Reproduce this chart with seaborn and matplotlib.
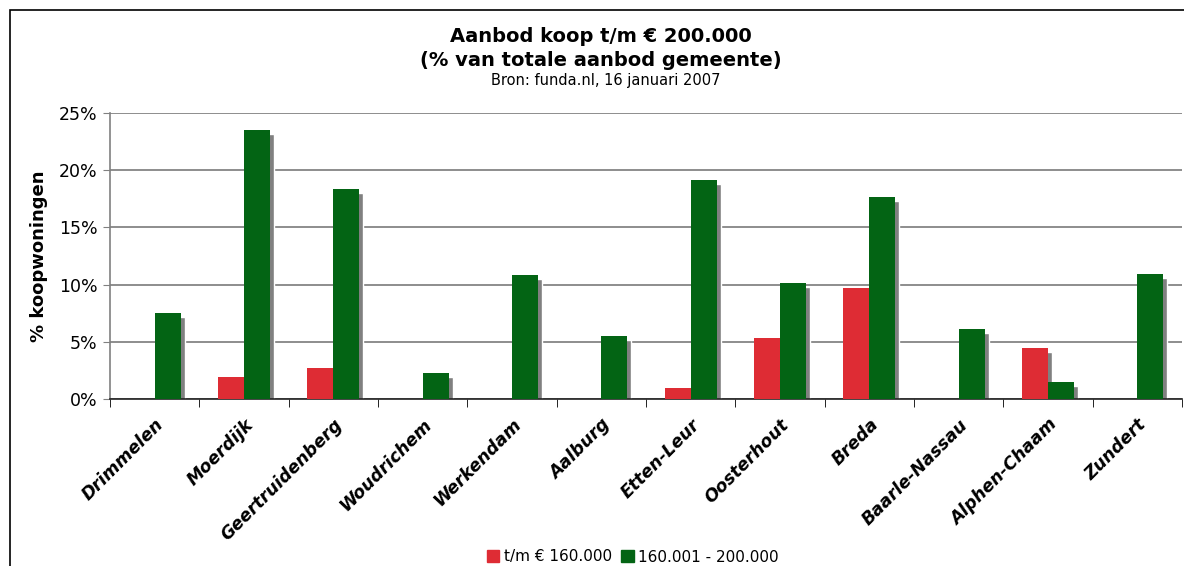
import matplotlib
matplotlib.use("Agg")
import matplotlib.pyplot as plt
import matplotlib.transforms as mtransforms
from matplotlib.patches import Rectangle, Patch
from matplotlib.ticker import FixedLocator, FuncFormatter
import seaborn as sns
import pandas as pd

# data
gemeenten = ["Drimmelen", "Moerdijk", "Geertruidenberg", "Woudrichem", "Werkendam",
             "Aalburg", "Etten-Leur", "Oosterhout", "Breda", "Baarle-Nassau",
             "Alphen-Chaam", "Zundert"]
tot_160 = [0, 1.9, 2.7, 0, 0, 0, 1.0, 5.3, 9.7, 0, 4.5, 0]
van_160_200 = [7.5, 23.5, 18.4, 2.3, 10.8, 5.5, 19.1, 10.1, 17.7, 6.1, 1.5, 10.9]
reeksen = ["t/m € 160.000", "160.001 - 200.000"]
kleuren = ["#DE2C34", "#036414"]

df = pd.DataFrame({
    "Gemeente": gemeenten * 2,
    "Reeks": [reeksen[0]] * len(gemeenten) + [reeksen[1]] * len(gemeenten),
    "Waarde": tot_160 + van_160_200,
})

sns.set_style("white")
plt.rcParams["font.family"] = ["DejaVu Sans"]
plt.rcParams["text.color"] = "black"
plt.rcParams["axes.labelcolor"] = "black"
plt.rcParams["xtick.color"] = "black"
plt.rcParams["ytick.color"] = "black"

fig = plt.figure(figsize=(11.84, 5.66), dpi=100)
ax = fig.add_axes([110 / 1184, 1 - 399 / 566, (1182 - 110) / 1184, (399 - 113) / 566])

# grijze schaduw eerst, een paar pixels verschoven
sns.barplot(data=df, x="Gemeente", y="Waarde", hue="Reeks", hue_order=reeksen,
            palette=["#808080", "#808080"], width=0.58, gap=0, ax=ax,
            legend=False, saturation=1, errorbar=None)
n_shadow = len(ax.patches)
shift = mtransforms.ScaledTranslation(4 / 100, -4 / 100, fig.dpi_scale_trans)
for p in ax.patches:
    p.set_transform(ax.transData + shift)
    p.set_zorder(2)

sns.barplot(data=df, x="Gemeente", y="Waarde", hue="Reeks", hue_order=reeksen,
            palette=kleuren, width=0.58, gap=0, ax=ax, legend=False,
            saturation=1, errorbar=None)
for p in ax.patches[n_shadow:]:
    p.set_zorder(3)
    p.set_linewidth(0)

ax.set_xlim(-0.5, len(gemeenten) - 0.5)
ax.set_ylim(0, 25)
ax.set_yticks([0, 5, 10, 15, 20, 25])
ax.yaxis.set_major_formatter(FuncFormatter(lambda v, pos: f"{v:.0f}%"))
ax.yaxis.grid(True, color="#7a7a7a", linewidth=1.2, zorder=1)
ax.set_axisbelow(True)
ax.tick_params(axis="y", labelsize=12.5, length=5, color="#808080", left=True,
               pad=4, labelcolor="black")

ax.set_xticks(range(len(gemeenten)))
ax.set_xticklabels(gemeenten, rotation=45, ha="right", rotation_mode="anchor",
                   fontsize=12.5, fontweight="bold", fontstyle="italic")
ax.xaxis.set_minor_locator(FixedLocator([i - 0.5 for i in range(len(gemeenten) + 1)]))
ax.tick_params(axis="x", which="major", length=0, pad=12)
ax.tick_params(axis="x", which="minor", length=6, color="black", bottom=True)

for s in ["top", "right"]:
    ax.spines[s].set_visible(False)
ax.spines["left"].set_color("#808080")
ax.spines["left"].set_linewidth(1.2)
ax.spines["bottom"].set_color("#222222")
ax.spines["bottom"].set_linewidth(1.2)

ax.set_xlabel("")
ax.set_ylabel("% koopwoningen", fontsize=13, fontweight="bold", labelpad=8)

fig.text(601 / 1184, 1 - 36 / 566, "Aanbod koop t/m € 200.000", ha="center",
         va="center", fontsize=14, fontweight="bold")
fig.text(601 / 1184, 1 - 60 / 566, "(% van totale aanbod gemeente)", ha="center",
         va="center", fontsize=14, fontweight="bold")
fig.text(606 / 1184, 1 - 81 / 566, "Bron: funda.nl, 16 januari 2007", ha="center",
         va="center", fontsize=10.5)

handles = [Patch(color=c, label=l) for c, l in zip(kleuren, reeksen)]
fig.legend(handles=handles, loc="center", bbox_to_anchor=(633 / 1184, 1 - 557 / 566),
           ncol=2, frameon=False, fontsize=11, handlelength=0.8, handleheight=0.8,
           handletextpad=0.3, columnspacing=0.6)

# rand om de figuur
fig.patches.append(Rectangle((10 / 1184, -0.05), 1.1, 1 - 10 / 566 + 0.05,
                             transform=fig.transFigure, fill=False,
                             edgecolor="black", linewidth=1.2))

fig.savefig("out.png", dpi=100)
